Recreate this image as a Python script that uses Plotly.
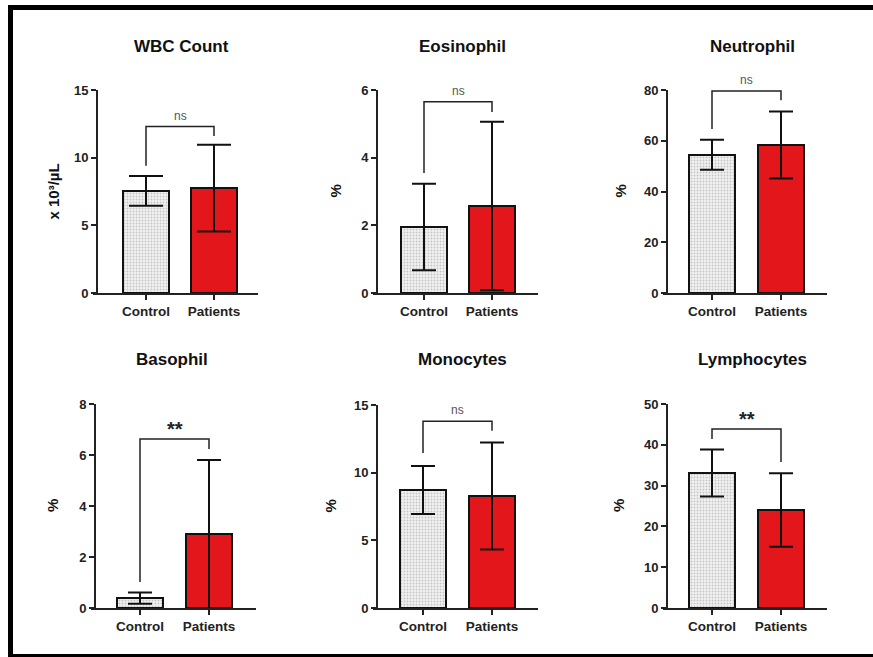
import plotly.graph_objects as go

# ---------------- data ----------------
panels = ["WBC Count", "Eosinophil", "Neutrophil", "Basophil", "Monocytes", "Lymphocytes"]
groups = ["Control", "Patients"]
y_titles = ["x 10³/µL", "%", "%", "%", "%", "%"]

control_mean = [7.55, 1.95, 54.5, 0.39, 8.72, 33.1]
control_sd = [1.1, 1.28, 5.9, 0.22, 1.78, 5.75]
patients_mean = [7.75, 2.57, 58.3, 2.9, 8.28, 24.0]
patients_sd = [3.2, 2.49, 13.2, 2.9, 3.95, 9.0]

y_max = [15, 6, 80, 8, 15, 50]
y_dtick = [5, 2, 20, 2, 5, 10]

sig_label = ["ns", "ns", "ns", "**", "ns", "**"]
bracket_top = [12.3, 5.65, 79.6, 6.63, 13.8, 43.9]
bracket_left_end = [9.4, 3.55, 64.6, 1.02, 11.45, 41.4]
bracket_right_end = [11.6, 5.35, 76.0, 6.24, 13.1, 35.8]

# ---------------- layout geometry (pixels) ----------------
W, H = 873, 657
# (axis_x, center0, center1, end_x, top_y, bottom_y)
geom = [
    (97, 146, 214, 258, 90, 293),
    (377, 424, 492, 538, 90, 293),
    (667, 712, 781, 827, 90, 293),
    (95, 140, 209, 256, 404, 608),
    (377, 423, 492, 538, 405, 608),
    (667, 712, 781, 827, 404, 608),
]
title_pos = [(181, 46), (462, 46), (752, 46), (172, 359), (462, 359), (752, 359)]
ytitle_x = [53, 335, 620, 52, 330, 618]
cap_w = [17, 12, 12, 12, 12, 12]
X_EXT = 4  # x-axis line extends a little left of the y axis

FONT = "Liberation Sans, Arial, sans-serif"
RED = "#e3161b"

fig = go.Figure()
layout = dict(
    template="none",
    width=W, height=H, autosize=False,
    margin=dict(l=0, r=0, t=0, b=0, pad=0, autoexpand=False),
    paper_bgcolor="white", plot_bgcolor="white",
    showlegend=False, bargap=0,
    font=dict(family=FONT, color="#222222"),
)
annotations = []

for i in range(6):
    ax_x, c0, c1, end_x, top_y, bot_y = geom[i]
    sp = c1 - c0
    x_left = ax_x - X_EXT
    xr = [(x_left - c0) / sp, (end_x - c0) / sp]
    bw = 46 / sp
    n = i + 1
    xa = "x" if n == 1 else f"x{n}"
    ya = "y" if n == 1 else f"y{n}"
    xkey = "xaxis" if n == 1 else f"xaxis{n}"
    ykey = "yaxis" if n == 1 else f"yaxis{n}"

    fig.add_trace(go.Bar(
        x=[0], y=[control_mean[i]], width=[bw], xaxis=xa, yaxis=ya,
        marker=dict(color="#f2f2f2", line=dict(color="#111111", width=2),
                    pattern=dict(shape=".", fgcolor="#c4c4c4", bgcolor="#f2f2f2",
                                 size=3, solidity=0.3)),
        error_y=dict(type="data", array=[control_sd[i]], color="#111111",
                     thickness=2, width=cap_w[i]),
        cliponaxis=False,
    ))
    fig.add_trace(go.Bar(
        x=[1], y=[patients_mean[i]], width=[bw], xaxis=xa, yaxis=ya,
        marker=dict(color=RED, line=dict(color="#111111", width=2)),
        error_y=dict(type="data", array=[patients_sd[i]], color="#111111",
                     thickness=2, width=cap_w[i]),
        cliponaxis=False,
    ))
    fig.add_trace(go.Scatter(
        x=[0, 0, 1, 1],
        y=[bracket_left_end[i], bracket_top[i], bracket_top[i], bracket_right_end[i]],
        mode="lines", line=dict(color="#222222", width=1.5),
        xaxis=xa, yaxis=ya, cliponaxis=False, hoverinfo="skip",
    ))

    layout[xkey] = dict(
        domain=[x_left / W, end_x / W], range=xr, anchor=ya, automargin=False,
        showline=True, linecolor="#222222", linewidth=2,
        tickvals=[0, 1], ticktext=groups, ticks="outside", ticklen=5,
        tickwidth=2, tickcolor="#222222", showgrid=False, zeroline=False,
        tickfont=dict(size=13.5, family=FONT, color="#222222", weight="bold"),
        fixedrange=True,
    )
    layout[ykey] = dict(
        domain=[1 - bot_y / H, 1 - top_y / H], range=[0, y_max[i]],
        anchor="free", position=ax_x / W, overlaying=None,
        automargin=False,
        showline=True, linecolor="#222222", linewidth=2,
        tick0=0, dtick=y_dtick[i], ticks="outside", ticklen=5, tickwidth=2,
        tickcolor="#222222", showgrid=False, zeroline=False,
        tickfont=dict(size=13, family=FONT, color="#222222", weight="bold"),
        fixedrange=True,
    )

    # significance label
    is_star = sig_label[i] == "**"
    annotations.append(dict(
        x=0.5, y=bracket_top[i], xref=xa, yref=ya, text=sig_label[i],
        showarrow=False, yanchor="bottom", yshift=-3 if is_star else 2,
        font=dict(size=20 if is_star else 12, family=FONT,
                  color="#222222" if is_star else "#555555",
                  weight="bold" if is_star else "normal"),
    ))
    # panel title
    tx, ty = title_pos[i]
    annotations.append(dict(
        x=tx / W, y=1 - ty / H, xref="paper", yref="paper", text=panels[i],
        showarrow=False, xanchor="center", yanchor="middle",
        font=dict(size=17, family=FONT, color="#111111", weight="bold"),
    ))
    # y-axis title
    annotations.append(dict(
        x=ytitle_x[i] / W, y=1 - ((top_y + bot_y) / 2) / H, xref="paper", yref="paper",
        text=y_titles[i], showarrow=False, textangle=-90,
        xanchor="center", yanchor="middle",
        font=dict(size=15, family=FONT, color="#111111", weight="bold"),
    ))

layout["annotations"] = annotations

# picture frame
def px_rect(x0, y0, x1, y1):
    return dict(type="rect", xref="paper", yref="paper",
                x0=x0 / W, x1=x1 / W, y0=1 - y1 / H, y1=1 - y0 / H,
                fillcolor="#000000", line=dict(width=0), layer="above")

layout["shapes"] = [
    px_rect(8, 5, 13, 657),
    px_rect(8, 5, 873, 10),
    px_rect(8, 654, 873, 657),
]

for k in list(layout.keys()):
    if k.startswith("yaxis") and layout[k].get("overlaying") is None:
        layout[k].pop("overlaying", None)

fig.update_layout(**layout)
fig.write_html(
    "out.html",
    config={"displayModeBar": False},
    post_script="document.body.style.margin='0px';document.body.style.overflow='hidden';",
)
